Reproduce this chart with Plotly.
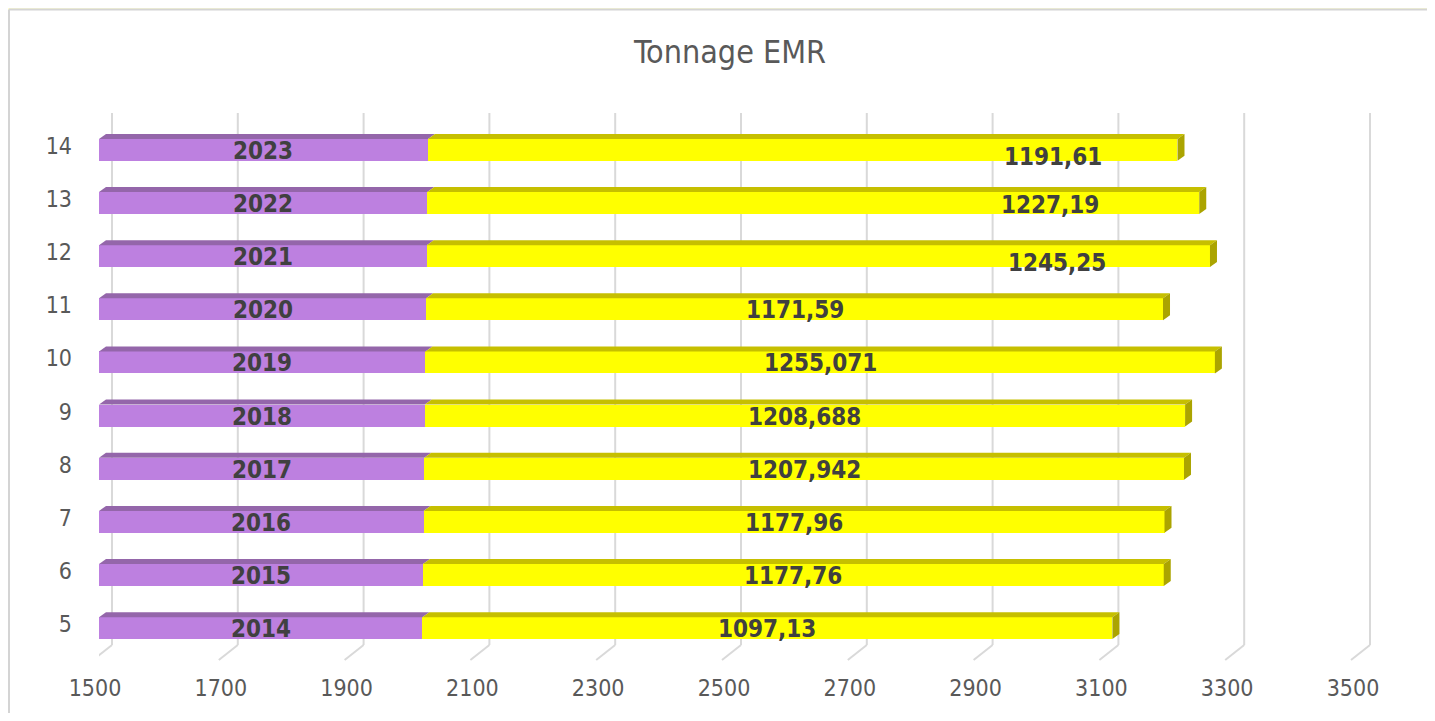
import plotly.graph_objects as go

# ---------------- data ----------------
categories = [5, 6, 7, 8, 9, 10, 11, 12, 13, 14]
years = [2014, 2015, 2016, 2017, 2018, 2019, 2020, 2021, 2022, 2023]
tonnage = [1097.13, 1177.76, 1177.96, 1207.942, 1208.688, 1255.071,
           1171.59, 1245.25, 1227.19, 1191.61]
x_ticks = [1500, 1700, 1900, 2100, 2300, 2500, 2700, 2900, 3100, 3300, 3500]
title_text = "Tonnage EMR"

# label nudges (pixels) as placed in the original chart
value_label_xshift = [0, 0, 0, 0, 0, 0, 0, 239, 237, 250]
value_label_yshift = [0, 0, 0, 0, 0, 0, 0, -6, -1, -6]

# ---------------- styling / geometry ----------------
OFF = 8  # page body margin in the browser
W, H = 1435 - 2 * OFF, 721 - 2 * OFF
PLOT_L, PLOT_R, PLOT_T, PLOT_B = 99 - OFF, 1412 - OFF, 113 - OFF, 662 - OFF
PX_PER_UNIT = 0.629
XMIN = x_ticks[0]
XMAX = XMIN + (PLOT_R - PLOT_L) / PX_PER_UNIT
ROW_PX = 53.33
Y_TOP = 14 + (150 - OFF - PLOT_T) / ROW_PX
Y_BOT = 5 - (PLOT_B - (630 - OFF)) / ROW_PX
BAR_W = 22 / ROW_PX
DEPTH_DX = 7 / PX_PER_UNIT
DEPTH_DY = 5 / ROW_PX
GRID_DX = 13 / PX_PER_UNIT
FLOOR_DX = -6 / PX_PER_UNIT
GRID_BOTTOM = 15 / (PLOT_B - PLOT_T)

PURPLE = "#BD80E0"
PURPLE_TOP = "#9466AA"
YELLOW = "#FFFF00"
YELLOW_TOP = "#C6BF00"
YELLOW_SIDE = "#ABA400"
GRID = "#D9D9D9"
LABEL = "#404040"
TICK = "#595959"
FONT = "DejaVu Sans Condensed, DejaVu Sans, sans-serif"

fig = go.Figure()
fig.add_trace(go.Bar(orientation="h", y=categories, x=years, width=BAR_W,
                     marker=dict(color=PURPLE, line=dict(width=0)),
                     hoverinfo="skip", showlegend=False))
fig.add_trace(go.Bar(orientation="h", y=categories, x=tonnage, width=BAR_W,
                     marker=dict(color=YELLOW, line=dict(width=0)),
                     hoverinfo="skip", showlegend=False))

shapes = []
def px_to_paper_x(px):
    return (px - PLOT_L) / (PLOT_R - PLOT_L)
def px_to_paper_y(py):
    return (PLOT_B - py) / (PLOT_B - PLOT_T)

# chart area (white with light border on top and left) on the hatched yellow page
cx0, cy0 = px_to_paper_x(9 - OFF), px_to_paper_y(9 - OFF)
cx1, cy1 = px_to_paper_x(W + 20), px_to_paper_y(H + 20)
shapes.append(dict(type="rect", xref="paper", yref="paper", layer="below",
                   x0=cx0, x1=cx1, y0=cy1, y1=cy0,
                   fillcolor="white", line=dict(width=0)))
shapes.append(dict(type="line", xref="paper", yref="paper", layer="below",
                   x0=cx0, x1=cx1, y0=cy0, y1=cy0, line=dict(color="#D4D4D4", width=2)))
shapes.append(dict(type="line", xref="paper", yref="paper", layer="below",
                   x0=cx0, x1=cx0, y0=cy1, y1=cy0, line=dict(color="#D4D4D4", width=2)))

# back-wall gridlines and floor tick connectors
for t in x_ticks:
    shapes.append(dict(type="line", xref="x", yref="paper", layer="below",
                       x0=t + GRID_DX, x1=t + GRID_DX, y0=GRID_BOTTOM, y1=1,
                       line=dict(color=GRID, width=2)))
    shapes.append(dict(type="line", xref="x", yref="paper", layer="below",
                       x0=t + GRID_DX, x1=t + FLOOR_DX, y0=GRID_BOTTOM, y1=0,
                       line=dict(color=GRID, width=2)))

# 3D faces of the bars
for c, yr, v in zip(categories, years, tonnage):
    yt = c + BAR_W / 2
    yb = c - BAR_W / 2
    a = XMIN
    b = yr
    e = yr + v
    shapes.append(dict(type="path", xref="x", yref="y", layer="above",
                       path=f"M {a},{yt} L {b},{yt} L {b + DEPTH_DX},{yt + DEPTH_DY} "
                            f"L {a + DEPTH_DX},{yt + DEPTH_DY} Z",
                       fillcolor=PURPLE_TOP, line=dict(width=0)))
    shapes.append(dict(type="path", xref="x", yref="y", layer="above",
                       path=f"M {b},{yt} L {e},{yt} L {e + DEPTH_DX},{yt + DEPTH_DY} "
                            f"L {b + DEPTH_DX},{yt + DEPTH_DY} Z",
                       fillcolor=YELLOW_TOP, line=dict(width=0)))
    shapes.append(dict(type="path", xref="x", yref="y", layer="above",
                       path=f"M {e},{yb} L {e},{yt} L {e + DEPTH_DX},{yt + DEPTH_DY} "
                            f"L {e + DEPTH_DX},{yb + DEPTH_DY} Z",
                       fillcolor=YELLOW_SIDE, line=dict(width=0)))

annotations = []
for c, yr, v, xs, ys in zip(categories, years, tonnage,
                             value_label_xshift, value_label_yshift):
    annotations.append(dict(x=(XMIN + yr) / 2, y=c, xref="x", yref="y",
                            text=f"<b>{yr}</b>", showarrow=False, yshift=-1,
                            font=dict(family=FONT, size=24, color=LABEL)))
    annotations.append(dict(x=yr + v / 2, y=c, xref="x", yref="y",
                            text="<b>" + str(v).replace(".", ",") + "</b>",
                            showarrow=False, xshift=xs, yshift=ys - 1,
                            font=dict(family=FONT, size=24, color=LABEL)))

fig.update_layout(
    width=W, height=H, autosize=False,
    margin=dict(l=PLOT_L, r=W - PLOT_R, t=PLOT_T, b=H - PLOT_B, pad=0),
    paper_bgcolor="#FFFFD2", plot_bgcolor="rgba(0,0,0,0)",
    barmode="stack", bargap=0,
    title=dict(text=title_text, x=(730 - OFF) / W, y=1 - (52 - OFF) / H,
               xref="container", yref="container", xanchor="center", yanchor="middle",
               font=dict(family=FONT, size=32, color=TICK)),
    xaxis=dict(range=[XMIN, XMAX], tickvals=x_ticks, ticktext=[str(t) for t in x_ticks],
               showgrid=False, zeroline=False, showline=False, ticks="",
               ticklabelshift=-4, ticklabelstandoff=12,
               tickfont=dict(family=FONT, size=23, color=TICK), fixedrange=True),
    yaxis=dict(range=[Y_BOT, Y_TOP], tickvals=categories,
               ticktext=[str(c) for c in categories],
               showgrid=False, zeroline=False, showline=False, ticks="",
               ticklabelshift=-4, ticklabelstandoff=26,
               tickfont=dict(family=FONT, size=23, color=TICK), fixedrange=True),
    shapes=shapes, annotations=annotations, showlegend=False,
)

fig.write_html("out.html", config={"displayModeBar": False})
